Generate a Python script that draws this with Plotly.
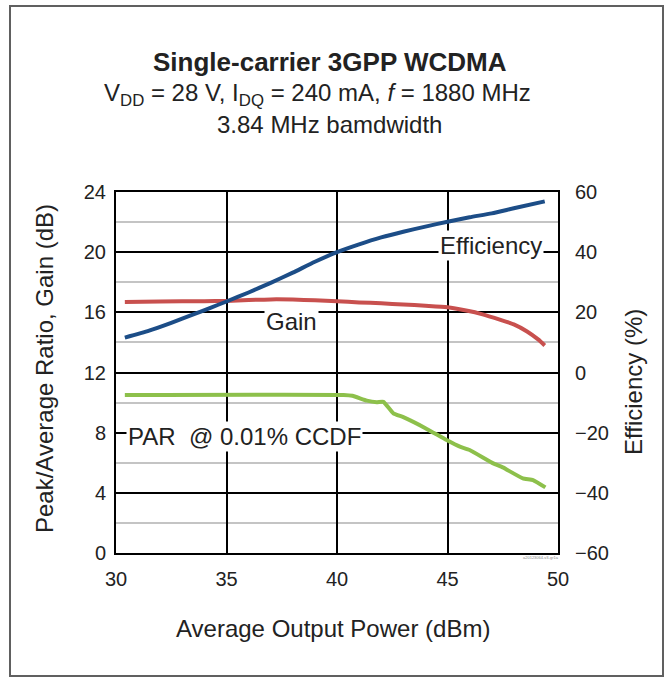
import plotly.graph_objects as go

# Average output power (dBm) and measured curves
eff_power = [30.4, 31.5, 32.5, 33.5, 34.3, 35.0, 36.0, 37.0, 38.0, 39.0, 40.0,
             41.0, 42.0, 43.0, 44.0, 45.0, 46.0, 47.0, 48.0, 49.4]
efficiency = [11.6, 13.9, 16.5, 19.3, 21.6, 23.6, 26.6, 29.8, 33.2, 36.8, 40.0,
              42.6, 44.9, 46.8, 48.5, 50.1, 51.6, 52.9, 54.6, 56.9]

gain_power = [30.4, 32.0, 34.0, 35.0, 36.0, 37.0, 38.0, 39.0, 40.0, 41.0, 42.0,
              43.0, 44.0, 45.0, 45.9, 46.5, 47.4, 48.0, 48.6, 49.1, 49.4]
gain = [16.69, 16.72, 16.74, 16.76, 16.82, 16.86, 16.85, 16.80, 16.74, 16.66, 16.60,
        16.52, 16.44, 16.34, 16.10, 15.90, 15.50, 15.20, 14.73, 14.20, 13.80]

par_power = [30.4, 40.3, 40.7, 41.35, 41.8, 42.1, 42.55, 43.0, 44.0, 44.96,
             45.56, 46.0, 47.07, 47.5, 48.41, 48.87, 49.43]
par = [10.51, 10.51, 10.45, 10.13, 10.03, 10.05, 9.29, 9.03, 8.30, 7.51,
       7.07, 6.85, 5.96, 5.69, 4.96, 4.85, 4.36]

x_ticks = [30, 35, 40, 45, 50]
left_ticks = [0, 4, 8, 12, 16, 20, 24]
right_ticks = [-60, -40, -20, 0, 20, 40, 60]

FONT = "Liberation Sans, Arial, sans-serif"
W, H = 668, 677
L, R, T, B = 116, 110, 192, 124

fig = go.Figure()
fig.add_trace(go.Scatter(x=par_power, y=par, mode="lines", line=dict(color="#8dc04b", width=4, shape="spline", smoothing=0.4), showlegend=False))
fig.add_trace(go.Scatter(x=gain_power, y=gain, mode="lines", line=dict(color="#c8504e", width=4, shape="spline", smoothing=0.6), showlegend=False))
fig.add_trace(go.Scatter(x=eff_power, y=efficiency, mode="lines", yaxis="y2", line=dict(color="#1c4d87", width=4, shape="spline", smoothing=0.6), showlegend=False))

def py(pix):
    # pixel row -> paper y
    return (H - B - pix) / (H - T - B)

def px(pix):
    return (pix - L) / (W - L - R)

annotations = [
    dict(text="<b>Single-carrier 3GPP WCDMA</b>", x=px(330), y=py(62), font=dict(size=26)),
    dict(text="V<sub>DD</sub> = 28 V, I<sub>DQ</sub> = 240 mA, <i>f</i> = 1880 MHz", x=px(317), y=py(95), font=dict(size=24)),
    dict(text="3.84 MHz bamdwidth", x=px(329), y=py(124), font=dict(size=24)),
    dict(text="Peak/Average Ratio, Gain (dB)", x=px(44), y=py(369), textangle=-90, font=dict(size=24)),
    dict(text="Efficiency (%)", x=px(633), y=py(382), textangle=-90, font=dict(size=24)),
    dict(text="Average Output Power (dBm)", x=px(333), y=py(628), font=dict(size=24)),
    dict(text="a20123064-v3-gr1a", x=px(541), y=py(557), font=dict(size=4, color="#888888")),
]
for a in annotations:
    a.update(xref="paper", yref="paper", showarrow=False, xanchor="center", yanchor="middle")
    a["font"].setdefault("color", "#222222")
    a["font"]["family"] = FONT

# In-plot curve labels on white boxes
labels = [("Efficiency", 46.98, 20.45), ("Gain", 37.95, 15.36), ("PAR  @ 0.01% CCDF", 35.8, 7.72)]
for text, x, y in labels:
    annotations.append(dict(text=text, x=x, y=y, xref="x", yref="y", showarrow=False,
                            bgcolor="white", borderpad=1,
                            font=dict(family=FONT, size=24, color="#222222")))

fig.update_layout(
    width=W, height=H,
    margin=dict(l=L, r=R, t=T, b=B),
    paper_bgcolor="white", plot_bgcolor="white",
    font=dict(family=FONT, size=20, color="#222222"),
    annotations=annotations,
    xaxis=dict(range=[30, 50], tickvals=x_ticks, showgrid=True, gridcolor="black", gridwidth=1.5,
               showline=True, linecolor="black", linewidth=2, mirror=True, zeroline=False,
               ticks="", ticklabelstandoff=7, tickfont=dict(size=20)),
    yaxis=dict(range=[0, 24], tickvals=left_ticks, showgrid=True, gridcolor="black", gridwidth=1.5,
               minor=dict(dtick=2, showgrid=True, gridcolor="#c4c4c4", gridwidth=2),
               showline=True, linecolor="black", linewidth=2, mirror=True, zeroline=False,
               ticks="", ticklabelstandoff=4, tickfont=dict(size=20)),
    yaxis2=dict(range=[-60, 60], tickvals=right_ticks, overlaying="y", side="right",
                showgrid=False, zeroline=False, showline=False, ticks="",
                ticklabelstandoff=16, tickfont=dict(size=20)),
    shapes=[dict(type="rect", xref="paper", yref="paper", x0=px(10), x1=px(663), y0=py(676), y1=py(6),
                 line=dict(color="#606060", width=2), layer="below")],
)

fig.write_html("out.html")
